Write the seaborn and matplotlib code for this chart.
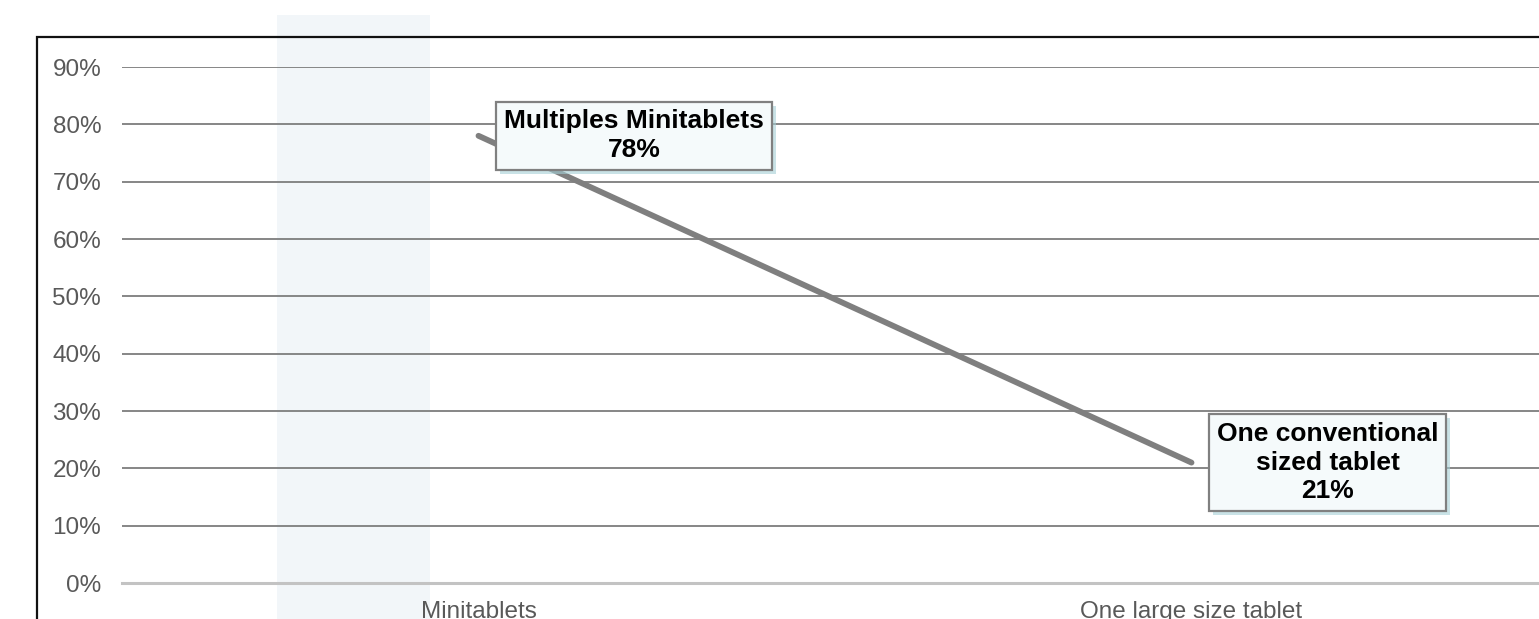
import matplotlib
matplotlib.use("Agg")
import matplotlib.pyplot as plt
import matplotlib.patheffects as pe
from matplotlib.patches import Rectangle
from matplotlib.ticker import PercentFormatter, FixedLocator
import seaborn as sns

# data
categories = ["Minitablets", "One large size tablet"]
shares = [0.78, 0.21]
callouts = ["Multiples Minitablets\n78%", "One conventional\nsized tablet\n21%"]
y_ticks = [0.0, 0.1, 0.2, 0.3, 0.4, 0.5, 0.6, 0.7, 0.8, 0.9]

sns.set_style("white")
plt.rcParams["font.family"] = ["Liberation Sans", "DejaVu Sans"]

W, H = 1539, 619
fig = plt.figure(figsize=(W / 100, H / 100), dpi=100)

# axes placed in pixel terms of the reference
left, right, bottom, top = 122, 1548, 583, 67
ax = fig.add_axes([left / W, 1 - bottom / H, (right - left) / W, (bottom - top) / H])
ax.set_facecolor("none")

# pale highlight band and the black outer frame
fig.patches.append(Rectangle((277 / W, -0.1), (430 - 277) / W, 1.1 - 15 / H,
                             transform=fig.transFigure, facecolor="#f2f6f9",
                             edgecolor="none", zorder=-1))
fig.patches.append(Rectangle((37 / W, -0.2), 1.2, 1.2 - 37 / H,
                             transform=fig.transFigure, facecolor="none",
                             edgecolor="#111111", linewidth=1.6, zorder=3,
                             clip_on=False))

sns.lineplot(x=categories, y=shares, ax=ax, color="#7f7f7f", linewidth=4.2,
             solid_capstyle="round", sort=False)

ax.set_xlim(-0.5, 1.5)
ax.set_ylim(0, 0.9)
ax.yaxis.set_major_locator(FixedLocator(y_ticks))
ax.yaxis.set_major_formatter(PercentFormatter(1.0, decimals=0))
ax.grid(axis="y", color="#868686", linewidth=1.4)
ax.set_axisbelow(True)

for s in ["left", "top", "right"]:
    ax.spines[s].set_visible(False)
ax.spines["bottom"].set_color("#c3c3c3")
ax.spines["bottom"].set_linewidth(2.2)
ax.spines["bottom"].set_zorder(2.5)

ax.tick_params(axis="y", length=0, pad=15, labelsize=17.5, labelcolor="#595959")
ax.tick_params(axis="x", which="major", length=0, pad=13, labelsize=17.5,
               labelcolor="#595959")
ax.set_xticks([-0.5, 0.5, 1.5], minor=True)
ax.tick_params(axis="x", which="minor", length=5, width=1.5, color="#c3c3c3")
ax.set_xlabel("")
ax.set_ylabel("")

# callout boxes next to each end of the line
offsets = [(112, 0), (98, 0)]
for i, (txt, off) in enumerate(zip(callouts, offsets)):
    t = ax.annotate(txt, xy=(i, shares[i]), xytext=off, textcoords="offset points",
                    ha="center", va="center", fontsize=19, fontweight="bold",
                    color="black", linespacing=1.25,
                    bbox=dict(boxstyle="square,pad=0.3", facecolor="#f5fafb",
                              edgecolor="#808080", linewidth=1.6))
    t.get_bbox_patch().set_path_effects([
        pe.SimplePatchShadow(offset=(3, -3), shadow_rgbFace="#a5d0d6", alpha=0.6),
        pe.Normal(),
    ])

fig.savefig("out.png", dpi=100)
